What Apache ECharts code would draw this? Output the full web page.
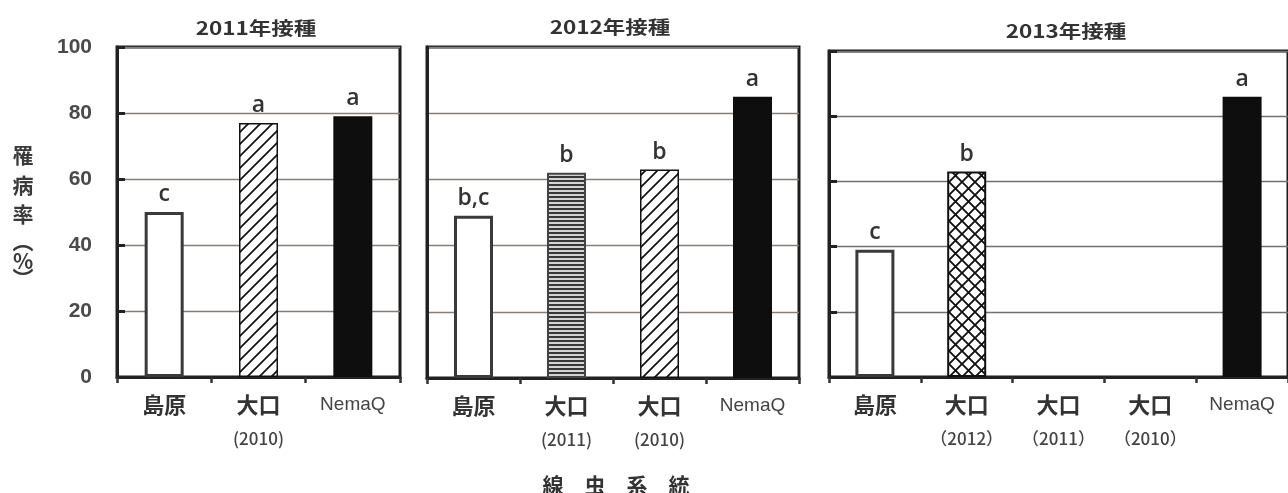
<!DOCTYPE html>
<html>
<head>
<meta charset="utf-8">
<script src="https://cdn.jsdelivr.net/npm/echarts@6/dist/echarts.min.js"></script>
<style>
  html, body { margin: 0; padding: 0; background: #fff; }
  #chart { width: 1288px; height: 493px; }
</style>
</head>
<body>
<div id="chart"></div>
<script>
// Disease incidence (%) by nematode line, for each inoculation year
const panelTitles = ['2011年接種', '2012年接種', '2013年接種'];

const cats2011 = ['島原', '大口\n(2010)', 'NemaQ'];
const vals2011 = [50, 77, 79];
const sig2011  = ['c', 'a', 'a'];

const cats2012 = ['島原', '大口\n(2011)', '大口\n(2010)', 'NemaQ'];
const vals2012 = [49, 62, 63, 85];
const sig2012  = ['b,c', 'b', 'b', 'a'];

const cats2013 = ['島原', '大口\n（2012）', '大口\n（2011）', '大口\n（2010）', 'NemaQ'];
const vals2013 = [39, 63, null, null, 86];
const sig2013  = ['c', 'b', '', '', 'a'];

const yTicks = [0, 20, 40, 60, 80, 100];
const yTitleChars = ['罹', '病', '率', '︵', '%', '︶'];
const xTitle = '線　虫　系　統';

// ---- fill patterns ----
function tile(w, h, draw) {
  const c = document.createElement('canvas');
  c.width = w; c.height = h;
  const g = c.getContext('2d');
  draw(g, w, h);
  return c;
}
const diagTile = tile(12, 12, (g, w, h) => {
  g.fillStyle = '#fff'; g.fillRect(0, 0, w, h);
  g.strokeStyle = '#111'; g.lineWidth = 1.7;
  g.beginPath();
  g.moveTo(-2, h + 2); g.lineTo(w + 2, -2);
  g.moveTo(-2, 2); g.lineTo(2, -2);
  g.moveTo(w - 2, h + 2); g.lineTo(w + 2, h - 2);
  g.stroke();
});
const stripeTile = tile(4, 4, (g, w, h) => {
  g.fillStyle = '#d4d4d4'; g.fillRect(0, 0, w, h);
  g.fillStyle = '#383838'; g.fillRect(0, 0, w, 2);
});
const crossTile = tile(13, 13, (g, w, h) => {
  g.fillStyle = '#fff'; g.fillRect(0, 0, w, h);
  g.strokeStyle = '#111'; g.lineWidth = 1.9;
  g.beginPath();
  g.moveTo(-1, -1); g.lineTo(w + 1, h + 1);
  g.moveTo(-1, h + 1); g.lineTo(w + 1, -1);
  g.stroke();
});

function barStyle(cat) {
  if (cat === '島原') return { color: '#fff', borderColor: '#3a3a3a', borderWidth: 3 };
  if (cat === 'NemaQ') return { color: '#0e0e0e', borderWidth: 0 };
  if (cat.includes('2010')) return { color: { image: diagTile, repeat: 'repeat' }, borderColor: '#111', borderWidth: 1.5 };
  if (cat.includes('2011')) return { color: { image: stripeTile, repeat: 'repeat' }, borderColor: '#444', borderWidth: 2 };
  return { color: { image: crossTile, repeat: 'repeat' }, borderColor: '#111', borderWidth: 2 };
}

const panels = [
  { cats: cats2011, vals: vals2011, sig: sig2011, grid: { left: 117, top: 47, width: 283, height: 330 }, showY: true,  yTick: true,  gridColor: '#8a7b73' },
  { cats: cats2012, vals: vals2012, sig: sig2012, grid: { left: 427, top: 47, width: 372, height: 331 }, showY: false, yTick: false, gridColor: '#8a7b73' },
  { cats: cats2013, vals: vals2013, sig: sig2013, grid: { left: 829, top: 51, width: 461, height: 326 }, showY: false, yTick: true,  gridColor: '#6f6f6f' }
];

function catLabel(v) {
  if (v === 'NemaQ') return '{n|NemaQ}';
  const parts = v.split('\n');
  return parts.length > 1 ? '{m|' + parts[0] + '}\n{s|' + parts[1] + '}' : '{m|' + parts[0] + '}';
}

const option = {
  backgroundColor: '#fff',
  animation: false,
  grid: panels.map(p => Object.assign({ show: true, borderColor: '#1c1c1c', borderWidth: 3, backgroundColor: 'transparent' }, p.grid)),
  xAxis: panels.map((p, i) => ({
    type: 'category',
    gridIndex: i,
    data: p.cats,
    axisLine: { lineStyle: { color: '#222', width: 3 } },
    axisTick: { show: true, length: 6, lineStyle: { color: '#333', width: 2.5 } },
    axisLabel: {
      margin: 11,
      interval: 0,
      formatter: catLabel,
      rich: {
        m: { fontFamily: 'Noto Sans CJK JP', fontWeight: 'bold', fontSize: 22, lineHeight: 34, color: '#333' },
        s: { fontFamily: 'Noto Sans CJK JP', fontWeight: 500, fontSize: 17, lineHeight: 34, color: '#444' },
        n: { fontFamily: 'Liberation Sans', fontSize: 19, lineHeight: 34, color: '#444' }
      }
    }
  })),
  yAxis: panels.map((p, i) => ({
    type: 'value',
    gridIndex: i,
    min: yTicks[0],
    max: yTicks[yTicks.length - 1],
    interval: yTicks[1] - yTicks[0],
    axisLine: { show: true, lineStyle: { color: '#222', width: 3 } },
    axisTick: { show: p.yTick, inside: true, length: 8, lineStyle: { color: '#222', width: 3 } },
    axisLabel: {
      show: p.showY, margin: 25, fontSize: 21, fontWeight: 'bold', fontFamily: 'Liberation Sans', color: '#4a4a4a'
    },
    splitLine: { show: true, lineStyle: { color: p.gridColor, width: 1.4 } }
  })),
  series: panels.map((p, i) => ({
    type: 'bar',
    xAxisIndex: i,
    yAxisIndex: i,
    barWidth: 39,
    data: p.vals.map((v, j) => ({ value: v === null ? '-' : v, itemStyle: barStyle(p.cats[j]) })),
    label: {
      show: true,
      position: 'top',
      distance: 6,
      fontFamily: 'Open Sans',
      fontWeight: 600,
      fontSize: 23,
      color: '#333',
      formatter: params => p.sig[params.dataIndex]
    }
  })),
  graphic: [
    ...panelTitles.map((t, i) => ({
      type: 'text',
      x: [256, 610, 1066][i],
      y: [28, 27, 31][i],
      scaleX: 1.25,
      style: { text: t, font: 'bold 18px "Noto Sans CJK JP"', fill: '#333', align: 'center', verticalAlign: 'middle' }
    })),
    ...yTitleChars.map((ch, i) => ({
      type: 'text',
      x: 23,
      y: [155, 185, 214, 241, 261, 278][i],
      style: { text: ch, font: 'bold 21px "Noto Sans CJK JP"', fill: '#3a3a3a', align: 'center', verticalAlign: 'middle' }
    })),
    {
      type: 'text',
      x: 616,
      y: 485,
      style: { text: xTitle, font: 'bold 21px "Noto Sans CJK JP"', fill: '#333', align: 'center', verticalAlign: 'middle' }
    }
  ]
};

const chart = echarts.init(document.getElementById('chart'), null, { renderer: 'canvas' });
chart.setOption(option);
</script>
</body>
</html>
